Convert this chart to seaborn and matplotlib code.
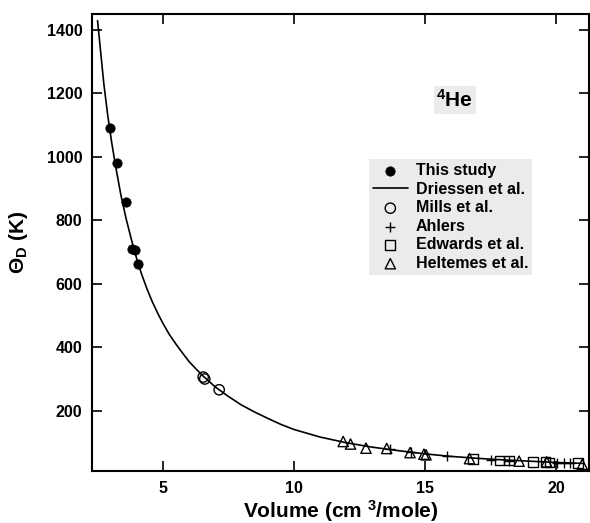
import numpy as np
import pandas as pd
import matplotlib
matplotlib.use("Agg")
import matplotlib.pyplot as plt
import seaborn as sns

# %% dados (volume em cm3/mole, theta_D em K)

# Driessen et al. (curva)
curva_v = [2.51, 2.6, 2.75, 2.9, 3.05, 3.2, 3.4, 3.6, 3.8, 4.0, 4.2, 4.4, 4.6, 4.8,
           5.0, 5.25, 5.5, 5.75, 6.0, 6.25, 6.5, 7.0, 7.5, 8.0, 8.5, 9.0, 9.5, 10.0,
           11.0, 12.0, 13.0, 14.0, 15.0, 16.0, 17.0, 18.0, 19.0, 20.0, 21.0]
curva_t = [1429, 1355, 1230, 1130, 1045, 970, 880, 805, 740, 680, 628, 583, 543, 508,
           476, 440, 410, 382, 355, 333, 312, 275, 245, 218, 196, 176, 157, 141,
           117, 99, 85, 74, 64, 56, 50, 45, 41, 37, 34]

# This study
estudo_v = [2.97, 3.27, 3.58, 3.84, 3.93, 4.06]
estudo_t = [1090, 980, 857, 709, 705, 662]

# Mills et al.
mills_v = [6.54, 6.60, 7.15]
mills_t = [306, 300, 266]

# Ahlers
ahlers_v = [13.68, 14.45, 15.85, 17.50, 18.20, 20.02, 20.30, 20.55]
ahlers_t = [80, 70, 57, 45, 43, 36, 35, 34]

# Edwards et al.
edwards_v = [16.84, 17.84, 18.19, 19.13, 19.60, 19.75, 20.85]
edwards_t = [49, 43, 43, 38, 38, 37, 34]

# Heltemes et al.
heltemes_v = [11.88, 12.16, 12.75, 13.54, 14.43, 14.96, 15.04, 16.70, 18.59, 19.64, 21.0]
heltemes_t = [103, 95, 82, 81, 68, 63, 61, 49, 41, 39, 31]

# %% estilo

sns.set_style("ticks")
plt.rcParams['font.family'] = ['Liberation Sans', 'DejaVu Sans']
plt.rcParams['font.weight'] = 'bold'
plt.rcParams['text.color'] = 'black'
plt.rcParams['axes.labelcolor'] = 'black'
plt.rcParams['axes.edgecolor'] = 'black'
plt.rcParams['xtick.color'] = 'black'
plt.rcParams['ytick.color'] = 'black'
plt.rcParams['mathtext.fontset'] = 'custom'
plt.rcParams['mathtext.rm'] = 'Liberation Sans:bold'
plt.rcParams['mathtext.bf'] = 'Liberation Sans:bold'
plt.rcParams['mathtext.it'] = 'Liberation Sans:bold'

# %% grafico

fig = plt.figure(figsize=(5.9, 5.23), dpi=100)
ax = fig.add_axes([0.156, 0.0994, 0.842, 0.8738])

df_curva = pd.DataFrame({'v': curva_v, 't': curva_t})
sns.lineplot(data=df_curva, x='v', y='t', ax=ax, color='black', linewidth=1.2,
             sort=False, estimator=None, label='Driessen et al.', zorder=2)

sns.scatterplot(x=estudo_v, y=estudo_t, ax=ax, marker='o', s=45, color='black',
                edgecolor='black', label='This study', zorder=3)
sns.scatterplot(x=mills_v, y=mills_t, ax=ax, marker='o', s=55, facecolor='none',
                edgecolor='black', linewidth=1.0, label='Mills et al.', zorder=3)
sns.scatterplot(x=ahlers_v, y=ahlers_t, ax=ax, marker='+', s=60, color='black',
                linewidth=1.0, label='Ahlers', zorder=3)
sns.scatterplot(x=edwards_v, y=edwards_t, ax=ax, marker='s', s=50, facecolor='none',
                edgecolor='black', linewidth=1.0, label='Edwards et al.', zorder=3)
sns.scatterplot(x=heltemes_v, y=heltemes_t, ax=ax, marker='^', s=55, facecolor='none',
                edgecolor='black', linewidth=1.0, label='Heltemes et al.', zorder=3)

ax.set_xlim(2.3, 21.25)
ax.set_ylim(10, 1450)
ax.set_xticks([5, 10, 15, 20])
ax.set_yticks([200, 400, 600, 800, 1000, 1200, 1400])
ax.tick_params(direction='in', length=7, width=1.2, top=True, right=True,
               labelsize=11.5, pad=7)
for lab in ax.get_xticklabels() + ax.get_yticklabels():
    lab.set_fontweight('bold')
for sp in ax.spines.values():
    sp.set_linewidth(1.5)

ax.set_xlabel(r'Volume (cm $^{3}$/mole)', fontsize=15, fontweight='bold', labelpad=2)
ax.set_ylabel(r'$\Theta_D$ (K)', fontsize=15, fontweight='bold', labelpad=12)

# legenda na ordem do original
h, l = ax.get_legend_handles_labels()
ordem = ['This study', 'Driessen et al.', 'Mills et al.', 'Ahlers',
         'Edwards et al.', 'Heltemes et al.']
hs = [h[l.index(o)] for o in ordem]
leg = ax.legend(hs, ordem, loc='upper left', bbox_to_anchor=(0.557, 0.682),
                borderaxespad=0, frameon=True, fancybox=False, framealpha=1,
                facecolor='#ebebeb', edgecolor='none',
                handlelength=2.2, handletextpad=0.5, labelspacing=0.22,
                borderpad=0.25, prop={'weight': 'bold', 'size': 11.5})

ax.text(0.73, 0.812, r'$^{4}$He', transform=ax.transAxes, ha='center', va='center',
        fontsize=15, fontweight='bold',
        bbox=dict(facecolor='#ebebeb', edgecolor='none', pad=2))

plt.savefig('out.png', dpi=100)
